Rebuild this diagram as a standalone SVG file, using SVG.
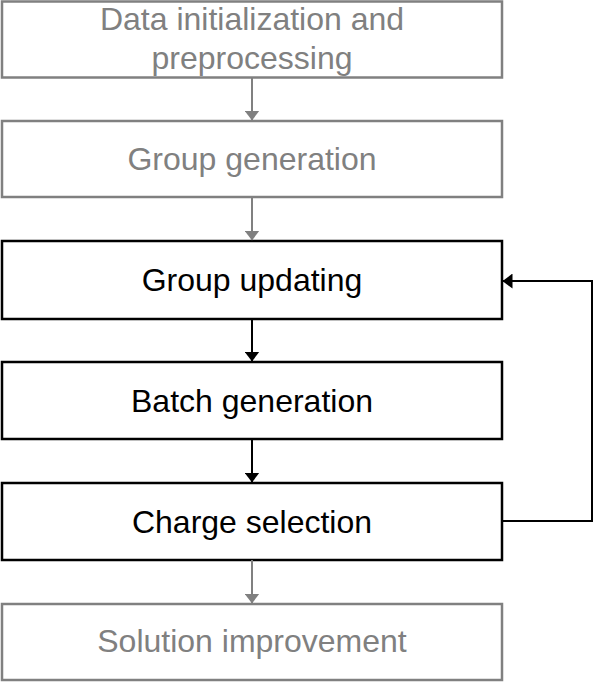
<svg xmlns="http://www.w3.org/2000/svg" width="594" height="682" viewBox="0 0 594 682">
<defs>
<style>
.box{fill:#fff;stroke-width:2.5}
.g{stroke:#808080}
.k{stroke:#000}
text{font-family:"Liberation Sans",Arial,sans-serif;font-size:32px;text-anchor:middle}
.tg{fill:#808080}
.tk{fill:#000}
.c{fill:none;stroke-width:2}
</style>
<marker id="ag" markerWidth="10" markerHeight="15" refX="9.5" refY="7.5" orient="auto" markerUnits="userSpaceOnUse"><path d="M0,0 L10,7.5 L0,15 Z" fill="#808080"/></marker>
<marker id="ak" markerWidth="10" markerHeight="15" refX="9.5" refY="7.5" orient="auto" markerUnits="userSpaceOnUse"><path d="M0,0 L10,7.5 L0,15 Z" fill="#000"/></marker>
</defs>
<g id="n1"><rect class="box g" x="2" y="1.5" width="500" height="76"/><text class="tg" x="252" y="30">Data initialization and</text><text class="tg" x="252" y="68.5">preprocessing</text></g>
<g id="n2"><rect class="box g" x="2" y="121" width="500" height="76"/><text class="tg" x="252" y="170">Group generation</text></g>
<g id="n3"><rect class="box k" x="2" y="241" width="500" height="78"/><text class="tk" x="252" y="291">Group updating</text></g>
<g id="n4"><rect class="box k" x="2" y="362" width="500" height="77"/><text class="tk" x="252" y="412">Batch generation</text></g>
<g id="n5"><rect class="box k" x="2" y="483" width="500" height="77"/><text class="tk" x="252" y="533">Charge selection</text></g>
<g id="n6"><rect class="box g" x="2" y="604" width="500" height="76"/><text class="tg" x="252" y="652">Solution improvement</text></g>
<g id="connectors">
<path class="c g" d="M252,78 V120" marker-end="url(#ag)"/>
<path class="c g" d="M252,197 V240" marker-end="url(#ag)"/>
<path class="c k" d="M252,319 V361" marker-end="url(#ak)"/>
<path class="c k" d="M252,439 V482" marker-end="url(#ak)"/>
<path class="c g" d="M252,560 V603" marker-end="url(#ag)"/>
<path class="c k" d="M502,521 H592 V281 H503" marker-end="url(#ak)"/>
</g>
</svg>
